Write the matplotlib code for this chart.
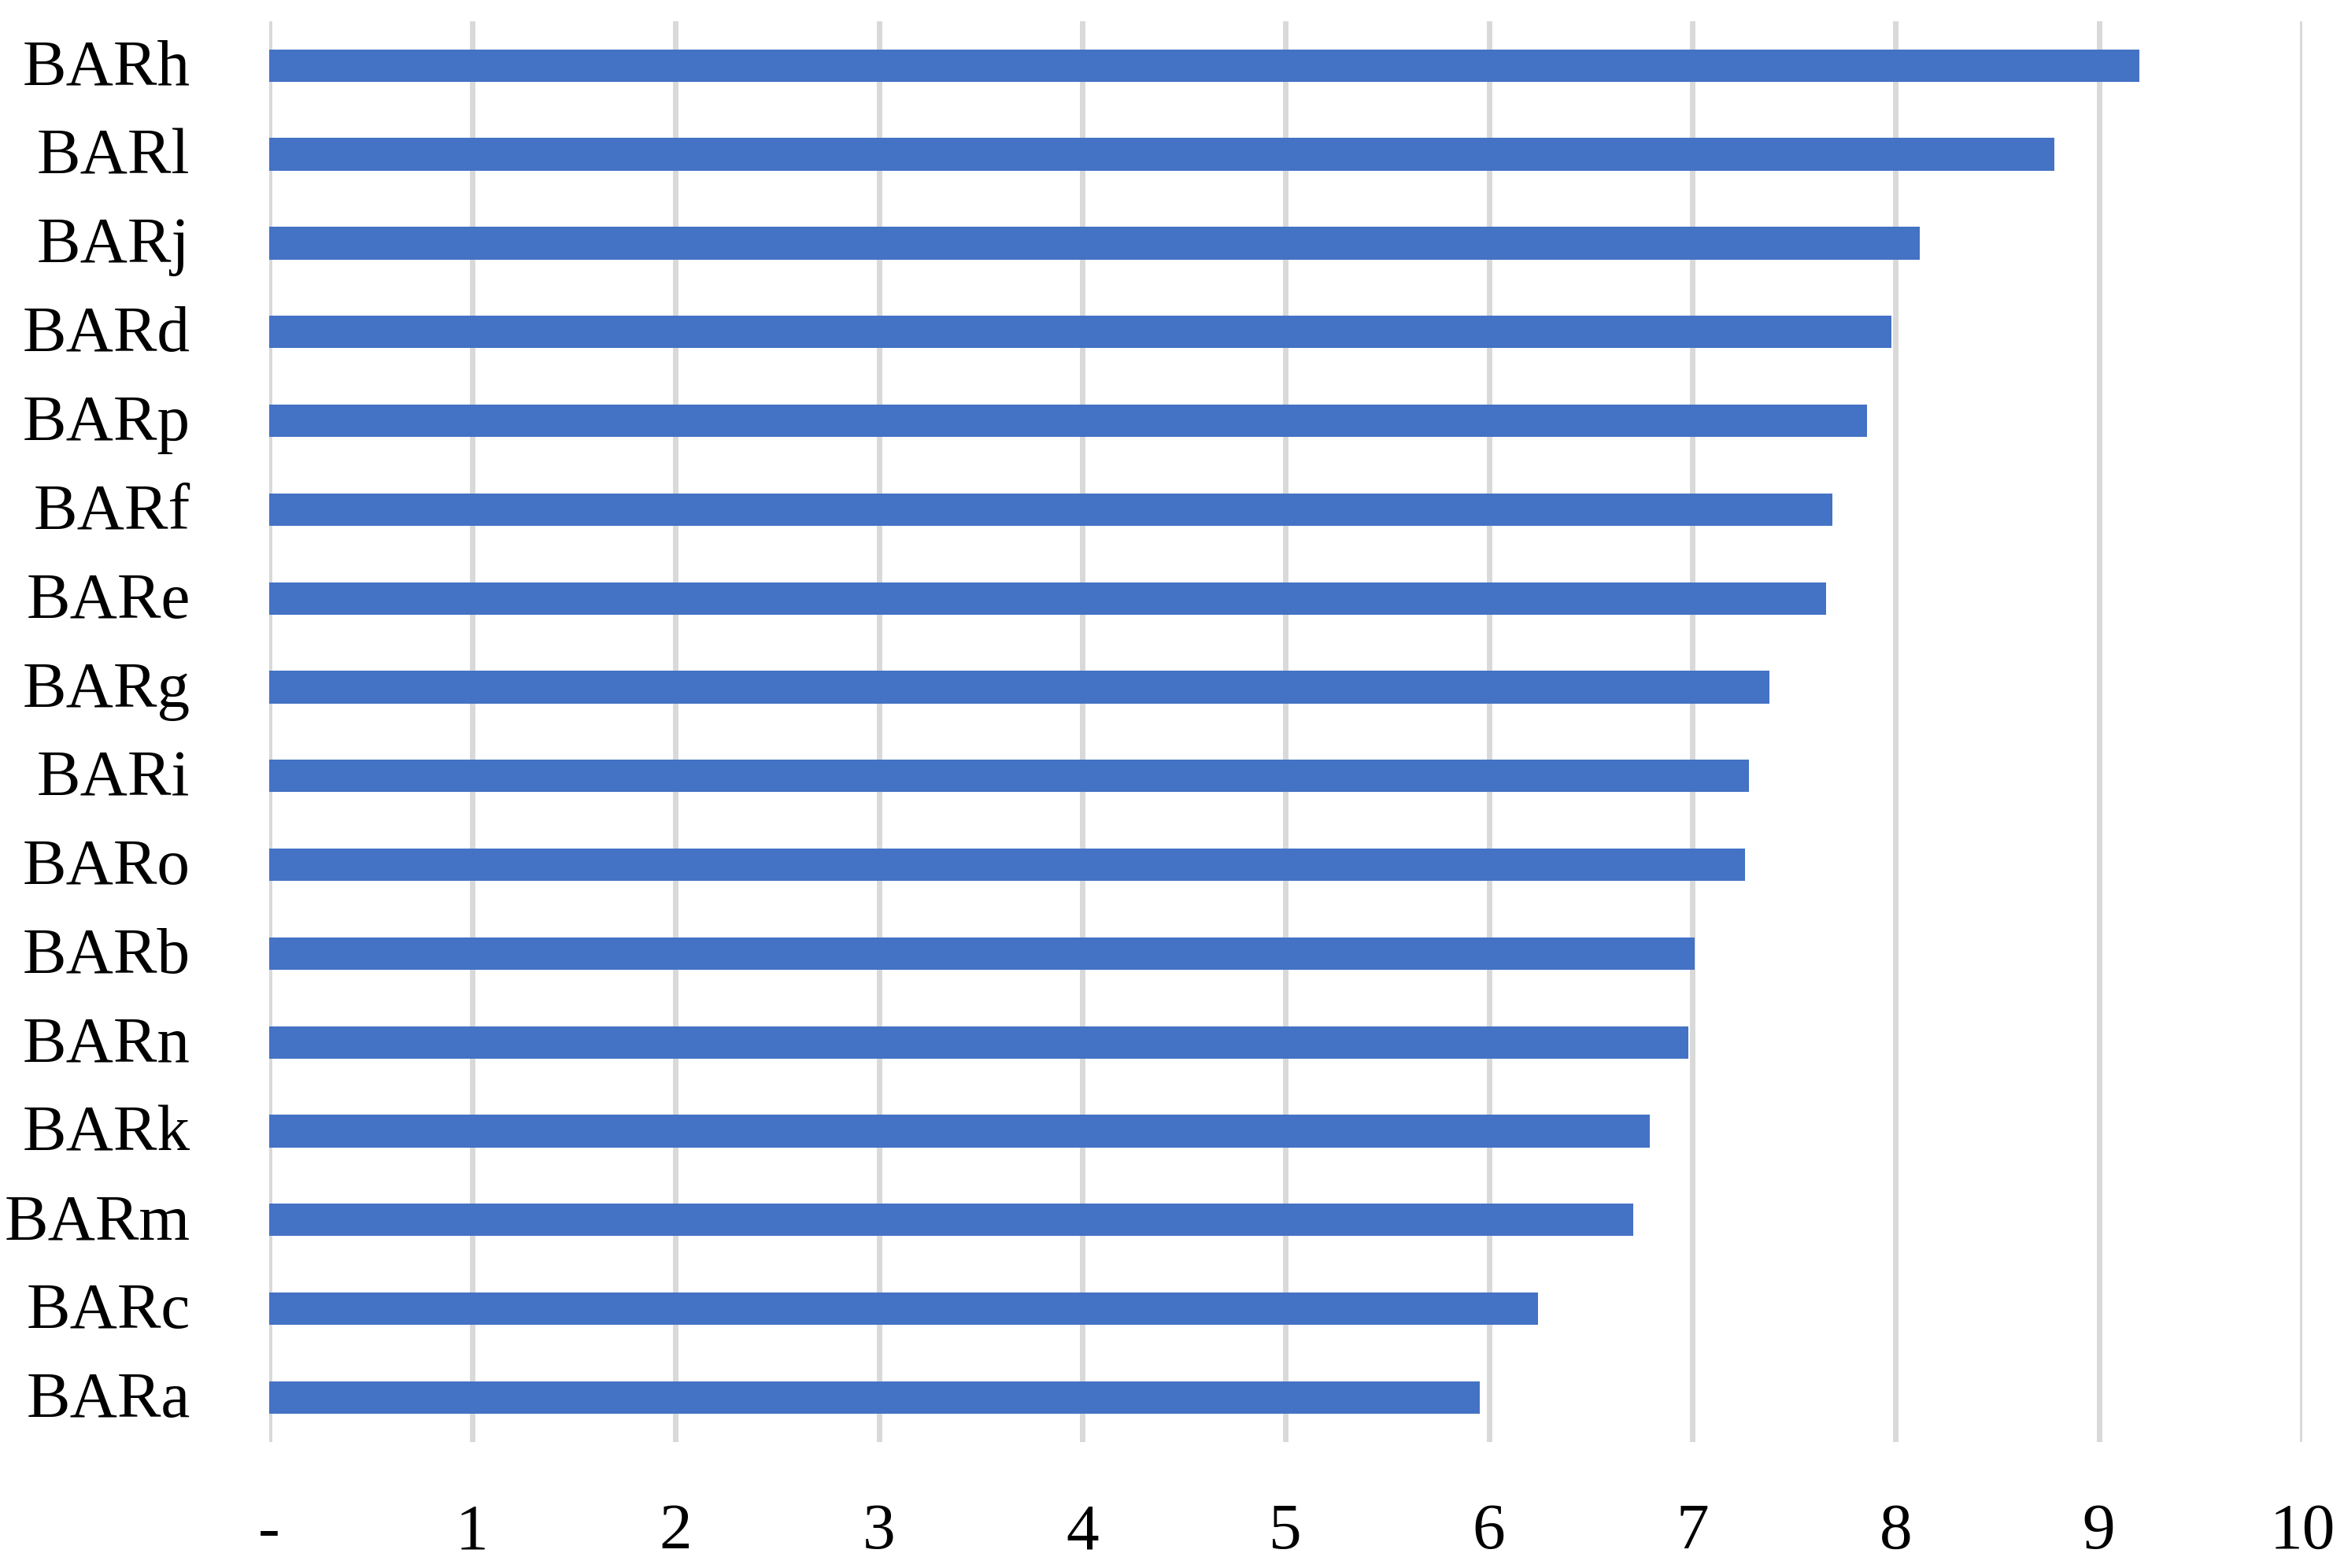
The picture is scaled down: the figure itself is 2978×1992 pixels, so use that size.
import matplotlib
matplotlib.use("Agg")
import matplotlib.pyplot as plt
import matplotlib.transforms as mtransforms

categories = ["BARh", "BARl", "BARj", "BARd", "BARp", "BARf", "BARe", "BARg",
              "BARi", "BARo", "BARb", "BARn", "BARk", "BARm", "BARc", "BARa"]
values = [9.20, 8.78, 8.12, 7.98, 7.86, 7.69, 7.66, 7.38,
          7.28, 7.26, 7.01, 6.98, 6.79, 6.71, 6.24, 5.955]
xticks = [0, 1, 2, 3, 4, 5, 6, 7, 8, 9, 10]
xticklabels = ["-", "1", "2", "3", "4", "5", "6", "7", "8", "9", "10"]

plt.rcParams['font.family'] = ['Liberation Serif', 'DejaVu Serif']

fig = plt.figure(figsize=(29.78, 19.92), dpi=100)
ax = fig.add_axes([0.1147, 0.0804, 0.9822 - 0.1147, 0.9865 - 0.0804])

y = list(range(len(categories)))
ax.barh(y, values, height=0.366, color="#4472C4", zorder=3)
ax.set_ylim(len(categories) - 0.5, -0.5)
ax.set_xlim(0, 10)
ax.set_yticks(y)
ax.set_yticklabels(categories, fontsize=60)
ax.set_xticks(xticks)
ax.set_xticklabels(xticklabels, fontsize=60)
ax.tick_params(axis='y', length=0, pad=72)
ax.tick_params(axis='x', length=0, pad=56)
ax.grid(axis='x', color="#D9D9D9", linewidth=5.0, zorder=0)
ax.grid(axis='y', visible=False)
for s in ax.spines.values():
    s.set_visible(False)

offset = mtransforms.ScaledTranslation(0, 3 / 72, fig.dpi_scale_trans)
for lbl in ax.get_yticklabels():
    lbl.set_transform(lbl.get_transform() + offset)

fig.savefig("out.png", dpi=100, facecolor="white")
